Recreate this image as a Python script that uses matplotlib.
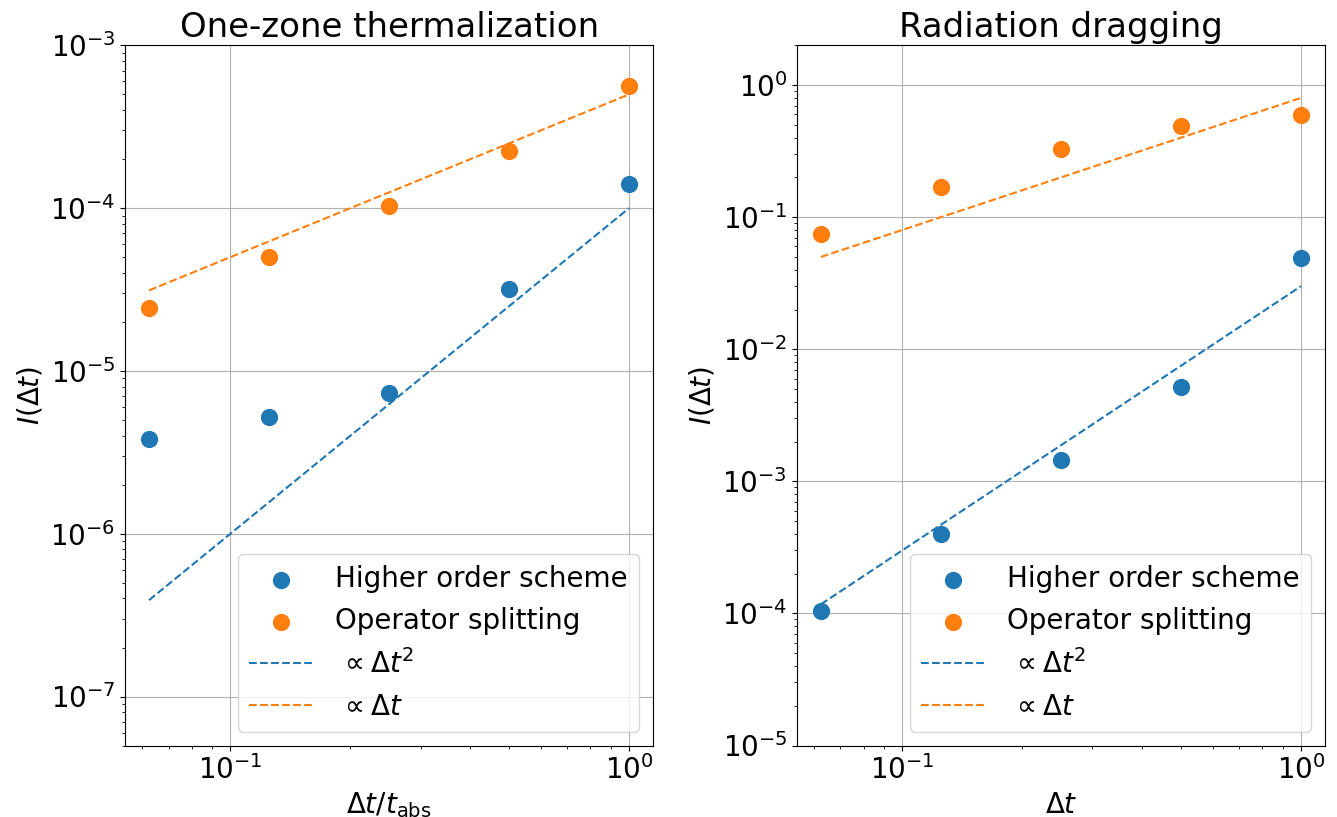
import numpy as np
import matplotlib
matplotlib.use("Agg")
import matplotlib.pyplot as plt

plt.rcParams['font.size'] = 20

dt = np.array([1/16, 1/8, 1/4, 1/2, 1.0])

# One-zone thermalization
thermo_higher = [3.8e-6, 5.2e-6, 7.3e-6, 3.2e-5, 1.4e-4]
thermo_split = [2.45e-5, 5.0e-5, 1.03e-4, 2.25e-4, 5.6e-4]
thermo_c2 = 1e-4
thermo_c1 = 5e-4

# Radiation dragging
drag_higher = [1.05e-4, 4.0e-4, 1.45e-3, 5.2e-3, 4.9e-2]
drag_split = [0.074, 0.17, 0.33, 0.49, 0.59]
drag_c2 = 0.03
drag_c1 = 0.8

fig = plt.figure(figsize=(13.37, 8.17), dpi=100)
ax1 = fig.add_axes([0.0935, 0.0875, 0.395, 0.857])
ax2 = fig.add_axes([0.596, 0.0875, 0.395, 0.857])

def panel(ax, hi, sp, c2, c1, title, xlabel, ylim):
    ax.scatter(dt, hi, s=130, color='C0', label='Higher order scheme', zorder=3)
    ax.scatter(dt, sp, s=130, color='C1', label='Operator splitting', zorder=3)
    ax.plot(dt, c2 * dt**2, '--', color='C0', lw=1.5, label=r'$\,\propto \Delta t^2$')
    ax.plot(dt, c1 * dt, '--', color='C1', lw=1.5, label=r'$\,\propto \Delta t$')
    ax.set_xscale('log')
    ax.set_yscale('log')
    ax.set_ylim(*ylim)
    ax.grid(True)
    ax.set_title(title, fontsize=24.5)
    ax.set_xlabel(xlabel)
    ax.set_ylabel(r'$I(\Delta t)$')
    ax.legend(loc='lower right', handlelength=2.3)

panel(ax1, thermo_higher, thermo_split, thermo_c2, thermo_c1,
      'One-zone thermalization', r'$\Delta t/t_{\rm abs}$', (5e-8, 1e-3))
panel(ax2, drag_higher, drag_split, drag_c2, drag_c1,
      'Radiation dragging', r'$\Delta t$', (1e-5, 2))

fig.savefig('out.png', dpi=100)
